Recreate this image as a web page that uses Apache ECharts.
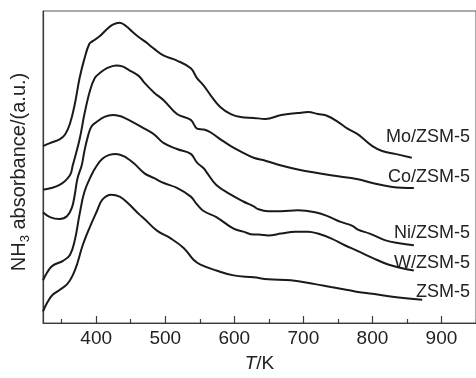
<!DOCTYPE html>
<html><head><meta charset="utf-8">
<script src="https://cdn.jsdelivr.net/npm/echarts@6/dist/echarts.min.js"></script>
<style>html,body{margin:0;padding:0;background:#fff}#c{width:476px;height:378px}</style>
</head><body><div id="c"></div>
<script>
// Temperature (K) and NH3 absorbance (a.u., offset traces)
const tMo = [323,333,347,355,362,369,376,383,390,395,405,415,424,434,444,452,462,470,477,484,498,517,537,546,556,566,580,595,609,628,645,668,692,707,721,735,750,764,779,786,800,814,833,857];
const vMo = [182,185,189,194,205,225,252,272,287,290,295,302,307,309,305,300,294,290,286,282,275,270,262,252,244,234,222,215,212,211,210,214,216,217,215,213,207,200,194,190,182,177,174,170];

const tCo = [323,347,362,366,376,383,391,398,405,415,429,438,448,462,470,484,498,517,537,546,556,566,580,595,613,628,645,668,692,740,779,800,829,860];
const vCo = [137,142,152,162,189,215,239,252,257,262,265,264,260,254,247,237,229,215,209,200,199,196,189,182,175,170,167,162,158,152,148,144,140,139];

const tNi = [323,333,347,358,365,369,373,379,383,388,393,401,412,424,434,441,455,470,484,498,517,537,546,556,560,574,595,613,628,635,649,668,692,717,735,754,771,779,796,819,839,860];
const vNi = [114,109,107,110,119,132,149,162,177,192,202,207,212,214,213,211,206,200,194,185,179,174,165,159,155,142,132,125,120,117,115,115,116,114,110,104,100,96,92,85,82,80];

const tW = [323,329,337,352,362,369,376,383,393,401,409,419,429,444,455,470,484,498,517,537,546,556,574,599,613,628,635,649,668,688,707,721,740,760,779,800,824,860];
const vW = [44,52,59,64,70,85,112,135,152,162,169,173,174,170,164,154,149,144,139,130,122,115,109,97,94,91,91,90,92,94,94,92,87,80,74,67,60,54];

const tZ = [323,330,337,347,358,366,373,380,391,401,409,422,434,445,462,470,488,508,527,541,551,574,599,628,649,682,717,740,764,779,800,829,872];
const vZ = [12,22,29,34,40,49,62,79,99,115,127,132,130,124,112,107,95,87,77,65,60,54,49,47,45,44,40,37,34,32,30,27,24];

const seriesNames = ['Mo/ZSM-5','Co/ZSM-5','Ni/ZSM-5','W/ZSM-5','ZSM-5'];
const majorTicks = [400,500,600,700,800,900];
const minorTicks = [350,450,550,650,750,850,950];

const temps = [tMo,tCo,tNi,tW,tZ];
const vals = [vMo,vCo,vNi,vW,vZ];
const labelY = [137,177,233,263,292];

const chart = echarts.init(document.getElementById('c'), null, {renderer:'canvas'});
const font = 'Liberation Sans, Arial, Helvetica, sans-serif';
const axisColor = '#3a3a3a';

chart.setOption({
  animation: false,
  backgroundColor: '#fff',
  textStyle: {fontFamily: font},
  grid: {left: 43, top: 11, width: 436, height: 321, show: true, borderColor: '#555', borderWidth: 1, backgroundColor: 'transparent'},
  xAxis: [{
    type: 'value', min: 323, max: 950, position: 'bottom',
    axisLine: {show: true, onZero: false, lineStyle: {color: axisColor, width: 1.2}},
    axisTick: {show: true, inside: true, length: 7, customValues: majorTicks, lineStyle: {color: axisColor, width: 1.2}},
    axisLabel: {show: true, customValues: majorTicks, fontSize: 19, color: '#222', margin: 6, fontFamily: font},
    splitLine: {show: false},
    name: '{i|T}{k|/K}', nameLocation: 'middle', nameGap: 31,
    nameTextStyle: {rich: {i: {fontStyle: 'italic', fontSize: 19, color: '#222', fontFamily: font}, k: {fontSize: 19, color: '#222', fontFamily: font}}}
  }, {
    type: 'value', min: 323, max: 950, position: 'bottom', gridIndex: 0,
    axisLine: {show: false},
    axisTick: {show: true, inside: true, length: 4, customValues: minorTicks, lineStyle: {color: axisColor, width: 1.2}},
    axisLabel: {show: false},
    splitLine: {show: false}
  }],
  yAxis: {
    type: 'value', min: 0, max: 321,
    axisLine: {show: true, lineStyle: {color: axisColor, width: 1.2}},
    axisTick: {show: false}, axisLabel: {show: false}, splitLine: {show: false}
  },
  series: seriesNames.map((n, k) => ({
    name: n, type: 'line', xAxisIndex: 0, smooth: 0.4, showSymbol: false, symbol: 'none',
    lineStyle: {color: '#1a1a1a', width: 2},
    data: temps[k].map((t, i) => [t, vals[k][i]])
  })),
  graphic: [
    {type: 'text', x: 19, y: 172, rotation: Math.PI/2,
     style: {text: '{a|NH}{b|3}{a| absorbance/(a.u.)}', align: 'center', verticalAlign: 'middle',
       rich: {a: {fontSize: 20, lineHeight: 26, fill: '#222', fontFamily: font},
              b: {fontSize: 13, lineHeight: 4, verticalAlign: 'bottom', fill: '#222', fontFamily: font}}}}
  ].concat(seriesNames.map((n, k) => ({
    type: 'text', x: 470, y: labelY[k],
    style: {text: n, align: 'right', verticalAlign: 'middle', fontSize: 18, fill: '#222', fontFamily: font}
  })))
});
</script></body></html>
